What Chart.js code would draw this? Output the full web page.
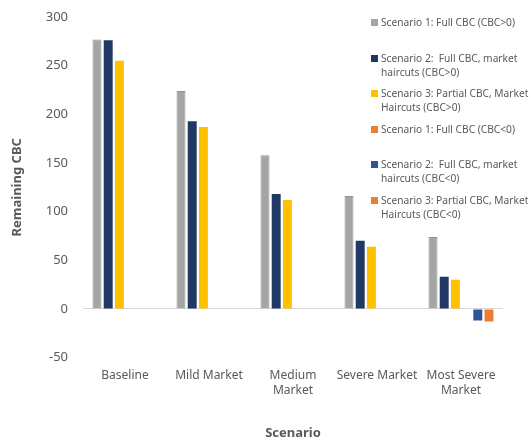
<!DOCTYPE html>
<html>
<head>
<meta charset="utf-8">
<script src="https://cdn.jsdelivr.net/npm/chart.js@4"></script>
<style>
  html, body { margin: 0; padding: 0; background: #fff; }
  #wrap { position: relative; width: 529px; height: 438px; overflow: hidden; }
  #legend {
    position: absolute; left: 370px; top: 15px; width: 165px;
    font-family: 'Noto Sans', sans-serif; font-size: 10.2px; color: #595959;
  }
  .legend-item { position: relative; height: 35.6px; padding-left: 11px; line-height: 14px; box-sizing: border-box; white-space: pre; }
  .legend-color { position: absolute; left: 1px; top: 4px; width: 7px; height: 7px; }
</style>
</head>
<body>
<div id="wrap">
  <canvas id="cbcChart" width="529" height="438"></canvas>
  <div id="legend"></div>
</div>
<script>
// Catégories et valeurs
const scenarios = ['Baseline', 'Mild Market', ['Medium', 'Market'], 'Severe Market', ['Most Severe', 'Market']];
const s1Positive = [277, 224, 158, 116, 74];
const s2Positive = [276, 193, 118, 70, 33];
const s3Positive = [255, 187, 112, 64, 30];
const s1Negative = [null, null, null, null, null];
const s2Negative = [null, null, null, null, -12];
const s3Negative = [null, null, null, null, -13];
const yTicks = [-50, 0, 50, 100, 150, 200, 250, 300];

const colors = {
  grey: '#a5a5a5',
  navy: '#203864',
  yellow: '#ffc000',
  orange: '#ed7d31',
  blue: '#2f5597',
  text: '#595959'
};

const fontFamily = "'Noto Sans', sans-serif";

// les retours à la ligne servent à la légende
const datasets = [
  { label: 'Scenario 1: Full CBC (CBC>0)', data: s1Positive, backgroundColor: colors.grey, borderColor: '#8f8f8f', borderWidth: 1 },
  { label: 'Scenario 2:  Full CBC, market\nhaircuts (CBC>0)', data: s2Positive, backgroundColor: colors.navy },
  { label: 'Scenario 3: Partial CBC, Market\nHaircuts (CBC>0)', data: s3Positive, backgroundColor: colors.yellow },
  { label: 'Scenario 1: Full CBC (CBC<0)', data: s1Negative, backgroundColor: colors.orange },
  { label: 'Scenario 2:  Full CBC, market\nhaircuts (CBC<0)', data: s2Negative, backgroundColor: colors.blue },
  { label: 'Scenario 3: Partial CBC, Market\nHaircuts (CBC<0)', data: s3Negative, backgroundColor: colors.orange }
];

const ctx = document.getElementById('cbcChart');
const chart = new Chart(ctx, {
  type: 'bar',
  data: {
    labels: scenarios,
    datasets: datasets.map(d => Object.assign({ categoryPercentage: 0.8, barPercentage: 0.8 }, d))
  },
  options: {
    responsive: false,
    animation: false,
    layout: { padding: { top: 17, right: 26, bottom: 0, left: 0 } },
    plugins: {
      legend: { display: false },
      tooltip: { enabled: false }
    },
    scales: {
      x: {
        grid: { display: false },
        border: { display: false },
        ticks: {
          color: colors.text,
          font: { family: fontFamily, size: 12 },
          padding: 3,
          maxRotation: 0,
          autoSkip: false
        },
        title: {
          display: true,
          text: 'Scenario',
          color: colors.text,
          font: { family: fontFamily, size: 13, weight: 'bold' },
          padding: { top: 25, bottom: -3 }
        }
      },
      y: {
        min: -50,
        max: 300,
        afterBuildTicks: function (scale) {
          scale.ticks = yTicks.map(v => ({ value: v }));
        },
        afterFit: function (scale) {
          scale.width = 83;
        },
        border: { display: false },
        grid: {
          // tick invisible : il sert seulement d'écart entre étiquettes et zone
          drawTicks: true,
          tickLength: 13,
          tickColor: 'rgba(0,0,0,0)',
          color: function (context) {
            return context.tick && context.tick.value === 0 ? '#d9d9d9' : 'rgba(0,0,0,0)';
          }
        },
        ticks: {
          color: colors.text,
          font: { family: fontFamily, size: 13 },
          padding: 2
        },
        title: {
          display: true,
          text: 'Remaining CBC',
          color: colors.text,
          font: { family: fontFamily, size: 13, weight: 'bold' },
          padding: { top: 9, bottom: 0 }
        }
      }
    }
  }
});

// Légende à droite, posée sur la zone du graphique
function buildLegend(containerId, chart) {
  const container = document.getElementById(containerId);
  chart.data.datasets.forEach(dataset => {
    const item = document.createElement('div');
    item.className = 'legend-item';
    const swatch = document.createElement('div');
    swatch.className = 'legend-color';
    swatch.style.backgroundColor = dataset.backgroundColor;
    const label = document.createElement('span');
    label.textContent = dataset.label;
    item.appendChild(swatch);
    item.appendChild(label);
    container.appendChild(item);
  });
}

buildLegend('legend', chart);
</script>
</body>
</html>
